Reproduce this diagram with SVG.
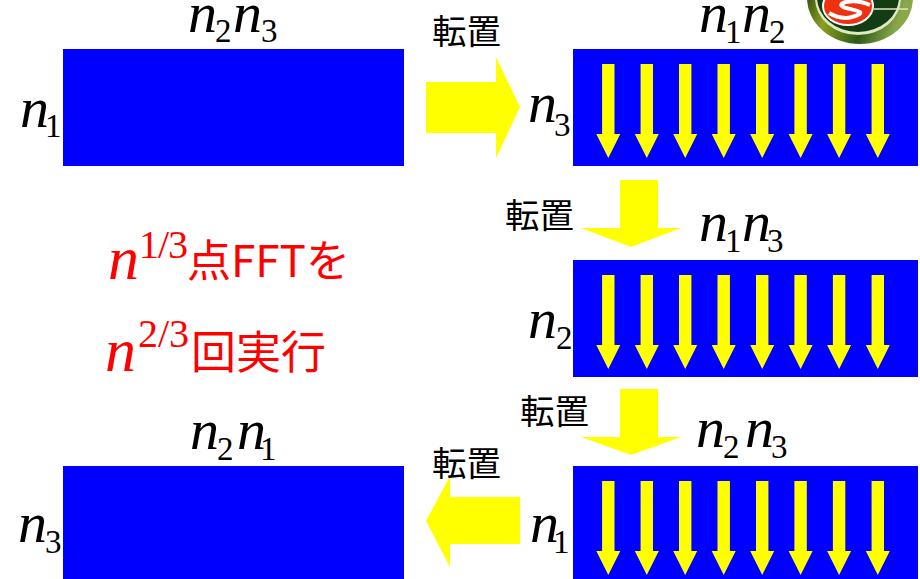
<svg xmlns="http://www.w3.org/2000/svg" width="920" height="579" viewBox="0 0 920 579">
<defs>
<polygon id="a" points="-6.2,0 6.2,0 6.2,70 12,70 0,94 -12,70 -6.2,70" fill="#ffff00"/>
<g id="col"><use href="#a" x="608.3"/><use href="#a" x="646.8"/><use href="#a" x="685.2"/><use href="#a" x="723.7"/><use href="#a" x="762.2"/><use href="#a" x="800.6"/><use href="#a" x="839.1"/><use href="#a" x="877.8"/></g>
<linearGradient id="lg" x1="0" y1="0" x2="1" y2="0.3"><stop offset="0" stop-color="#0a1f0a"/><stop offset="0.35" stop-color="#8aa020"/><stop offset="0.7" stop-color="#2c5a18"/><stop offset="1" stop-color="#8aa84a"/></linearGradient>
</defs>
<style>
.n{font-family:"Liberation Serif","Times New Roman",serif;font-style:italic;font-size:58px;fill:#000}
.s{font-family:"Liberation Serif","Times New Roman",serif;font-size:33px;fill:#000}
.j{font-family:"Noto Sans CJK JP",sans-serif;font-size:34.5px;fill:#000}
.r{font-family:"Noto Sans CJK JP",sans-serif;font-size:44px;fill:#ff0000}
.r2{font-family:"Noto Sans CJK JP",sans-serif;font-size:45px;fill:#ff0000}
.ri{font-family:"Liberation Serif","Times New Roman",serif;font-style:italic;font-size:62px;fill:#ff0000}
.rs{font-family:"Liberation Serif","Times New Roman",serif;font-size:40px;fill:#ff0000}
.b{fill:#0000ff}
.y{fill:#ffff00}
</style>
<g id="logo">
<ellipse cx="860" cy="-2" rx="53" ry="46" fill="url(#lg)"/>
<ellipse cx="858" cy="-2" rx="43" ry="37" fill="#dfe8c0"/>
<ellipse cx="858" cy="-3" rx="41" ry="35" fill="#143c14"/>
<ellipse cx="848" cy="6" rx="26" ry="20" fill="#fff"/>
<ellipse cx="848" cy="6" rx="24" ry="18" fill="#f03010"/>
<path d="M870 5 C852 -3 832 4 846 8 C858 11 868 12 852 17 C845 19 836 17 829 13" fill="none" stroke="#fff" stroke-width="4"/>
<path d="M874 9 H908" stroke="#dfe8c0" stroke-width="1.5"/>
</g>
<g id="node-top-left"><rect class="b" x="63" y="49" width="341" height="117"/>
<text class="n" x="188" y="32">n</text><text class="s" x="215" y="42">2</text><text class="n" x="233" y="32">n</text><text class="s" x="261" y="42">3</text>
<text class="n" x="20" y="127">n</text><text class="s" x="45" y="137">1</text></g>
<g id="node-top-right"><rect class="b" x="573" y="49" width="345" height="117"/><use href="#col" y="64"/>
<text class="n" x="699" y="32">n</text><text class="s" x="725" y="43">1</text><text class="n" x="742" y="32">n</text><text class="s" x="769" y="43">2</text>
<text class="n" x="528" y="122">n</text><text class="s" x="554" y="136">3</text></g>
<g id="node-mid-right"><rect class="b" x="573" y="260" width="345" height="117"/><use href="#col" y="275"/>
<text class="n" x="699" y="241">n</text><text class="s" x="725" y="252">1</text><text class="n" x="742" y="241">n</text><text class="s" x="767" y="252">3</text>
<text class="n" x="528" y="338">n</text><text class="s" x="556" y="349">2</text></g>
<g id="node-bottom-right"><rect class="b" x="573" y="466" width="345" height="113"/><use href="#col" y="481"/>
<text class="n" x="696" y="447">n</text><text class="s" x="723" y="458">2</text><text class="n" x="745" y="447">n</text><text class="s" x="771" y="458">3</text>
<text class="n" x="530" y="542">n</text><text class="s" x="553" y="553">1</text></g>
<g id="node-bottom-left"><rect class="b" x="63" y="466" width="341" height="113"/>
<text class="n" x="190" y="449">n</text><text class="s" x="217" y="460">2</text><text class="n" x="237" y="449">n</text><text class="s" x="260" y="460">1</text>
<text class="n" x="18" y="542">n</text><text class="s" x="45" y="553">3</text></g>
<g id="connectors">
<polygon class="y" points="426,82 496,82 496,57 520,107 496,158 496,133 426,133"/>
<polygon class="y" points="620,180 658,180 658,228 681,228 631,247 581,228 620,228"/>
<polygon class="y" points="620,389 658,389 658,437 681,437 631,455 581,437 620,437"/>
<polygon class="y" points="520,497 450,497 450,476 426,521 450,567 450,544 520,544"/>
</g>
<g id="labels">
<text class="j" x="432" y="44">転置</text>
<text class="j" x="505" y="228">転置</text>
<text class="j" x="520" y="424">転置</text>
<text class="j" x="432" y="476">転置</text>
<text class="ri" x="108" y="279">n</text><text class="rs" x="139" y="258" letter-spacing="-1">1/3</text>
<text class="r" x="187" y="277">点FFTを</text>
<text class="ri" x="105" y="371">n</text><text class="rs" x="138" y="347">2/3</text>
<text class="r2" x="191" y="369">回実行</text>
</g>
</svg>
